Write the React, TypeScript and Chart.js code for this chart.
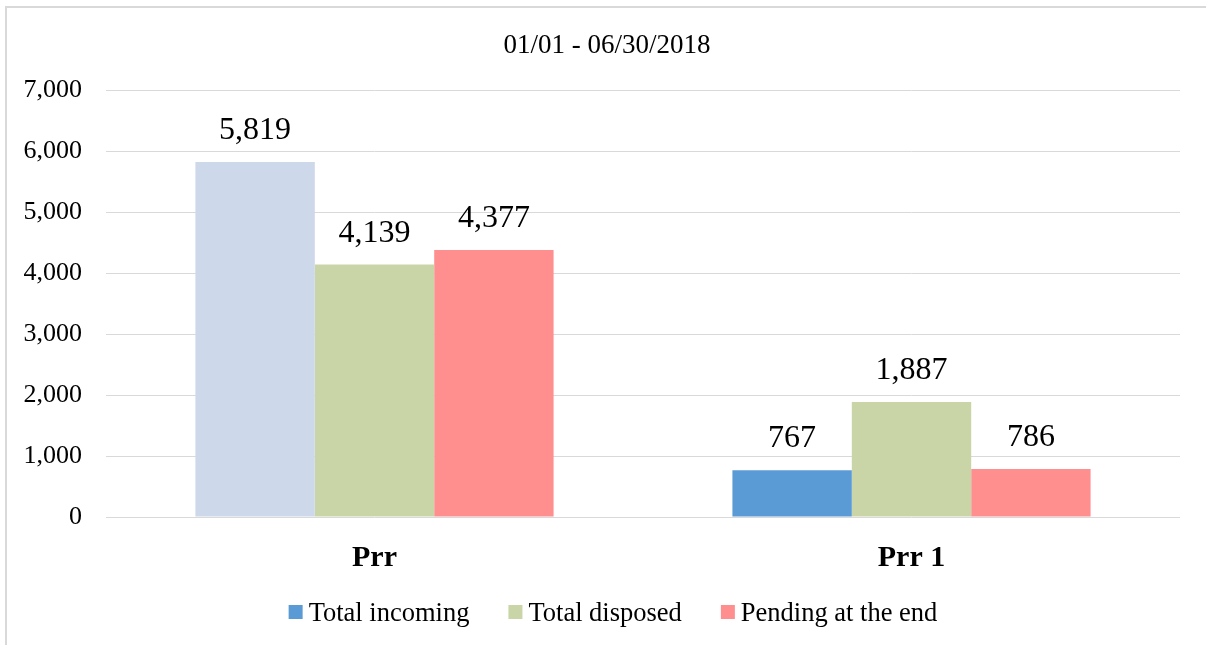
import React, { useEffect, useRef } from "react";
import { Chart, registerables } from "chart.js";

Chart.register(...registerables);

const titleText = "01/01 - 06/30/2018";
const categories = ["Prr", "Prr 1"];
const seriesNames = ["Total incoming", "Total disposed", "Pending at the end"];
const totalIncoming = [5819, 767];
const totalDisposed = [4139, 1887];
const pendingAtEnd = [4377, 786];
const yTicks = [0, 1000, 2000, 3000, 4000, 5000, 6000, 7000];

const incomingColors = ["#CDD8EB", "#5B9BD5"];
const disposedColor = "#C9D5A7";
const pendingColor = "#FF8F8F";
const legendColors = ["#5B9BD5", disposedColor, pendingColor];

const SERIF = "'Liberation Serif', 'Times New Roman', serif";
const fmt = (v: number) => v.toLocaleString("en-US");

const decorPlugin = {
  id: "decor",
  beforeDraw(chart: any) {
    const ctx = chart.ctx;
    ctx.save();
    ctx.fillStyle = "#ffffff";
    ctx.fillRect(0, 0, chart.width, chart.height);
    ctx.strokeStyle = "#D9D9D9";
    ctx.lineWidth = 2;
    ctx.beginPath();
    ctx.moveTo(6, chart.height + 5);
    ctx.lineTo(6, 7);
    ctx.lineTo(chart.width + 5, 7);
    ctx.stroke();
    ctx.restore();
  },
  afterDraw(chart: any) {
    const ctx = chart.ctx;
    ctx.save();
    // title
    ctx.fillStyle = "#000000";
    ctx.font = `27px ${SERIF}`;
    ctx.textAlign = "center";
    ctx.textBaseline = "alphabetic";
    ctx.fillText(titleText, chart.width / 2 + 4, 53);

    // data labels
    ctx.font = `32px ${SERIF}`;
    chart.data.datasets.forEach((ds: any, di: number) => {
      const meta = chart.getDatasetMeta(di);
      meta.data.forEach((bar: any, i: number) => {
        ctx.fillText(fmt(ds.data[i]), bar.x, bar.y - 23);
      });
    });

    // legend
    ctx.font = `26.5px ${SERIF}`;
    const box = 14;
    const gapText = 6;
    const gapItem = 39;
    const widths = seriesNames.map((n) => ctx.measureText(n).width);
    const total =
      widths.reduce((a, b) => a + b, 0) +
      seriesNames.length * (box + gapText) +
      gapItem * (seriesNames.length - 1);
    let x = chart.width / 2 + 10 - total / 2;
    const baseline = 621;
    ctx.textAlign = "left";
    seriesNames.forEach((n, i) => {
      ctx.fillStyle = legendColors[i];
      ctx.fillRect(x, 605, box, box);
      x += box + gapText;
      ctx.fillStyle = "#000000";
      ctx.fillText(n, x, baseline);
      x += widths[i] + gapItem;
    });
    ctx.restore();
  },
};

export default function App() {
  const ref = useRef<HTMLCanvasElement | null>(null);
  useEffect(() => {
    if (!ref.current) return;
    const chart = new Chart(ref.current, {
      type: "bar",
      data: {
        labels: categories,
        datasets: [
          { label: seriesNames[0], data: totalIncoming, backgroundColor: incomingColors },
          { label: seriesNames[1], data: totalDisposed, backgroundColor: disposedColor },
          { label: seriesNames[2], data: pendingAtEnd, backgroundColor: pendingColor },
        ],
      },
      options: {
        responsive: false,
        animation: false,
        devicePixelRatio: 1,
        layout: { padding: { top: 90, right: 26, bottom: 72, left: 0 } },
        datasets: { bar: { categoryPercentage: 0.667, barPercentage: 1 } },
        plugins: {
          legend: { display: false },
          title: { display: false },
          tooltip: { enabled: false },
        },
        scales: {
          x: {
            afterFit: (s: any) => {
              s.height = 56;
            },
            grid: { display: false, drawTicks: false },
            border: { display: false },
            ticks: {
              padding: 23,
              color: "#000000",
              font: { family: SERIF, size: 30, weight: "bold" },
            },
          },
          y: {
            min: 0,
            max: 7000,
            afterFit: (s: any) => {
              s.width = 106;
            },
            afterBuildTicks: (s: any) => {
              s.ticks = yTicks.map((v) => ({ value: v }));
            },
            grid: { color: "#D9D9D9", lineWidth: 1, drawTicks: false },
            border: { display: false },
            ticks: {
              padding: 24,
              color: "#000000",
              font: { family: SERIF, size: 26 },
              callback: (v: any) => fmt(Number(v)),
            },
          },
        },
      },
      plugins: [decorPlugin],
    });
    return () => chart.destroy();
  }, []);
  return (
    <div style={{ position: "fixed", left: 0, top: 0, width: 1206, height: 645, background: "#fff" }}>
      <canvas ref={ref} width={1206} height={645} style={{ display: "block" }} />
    </div>
  );
}
